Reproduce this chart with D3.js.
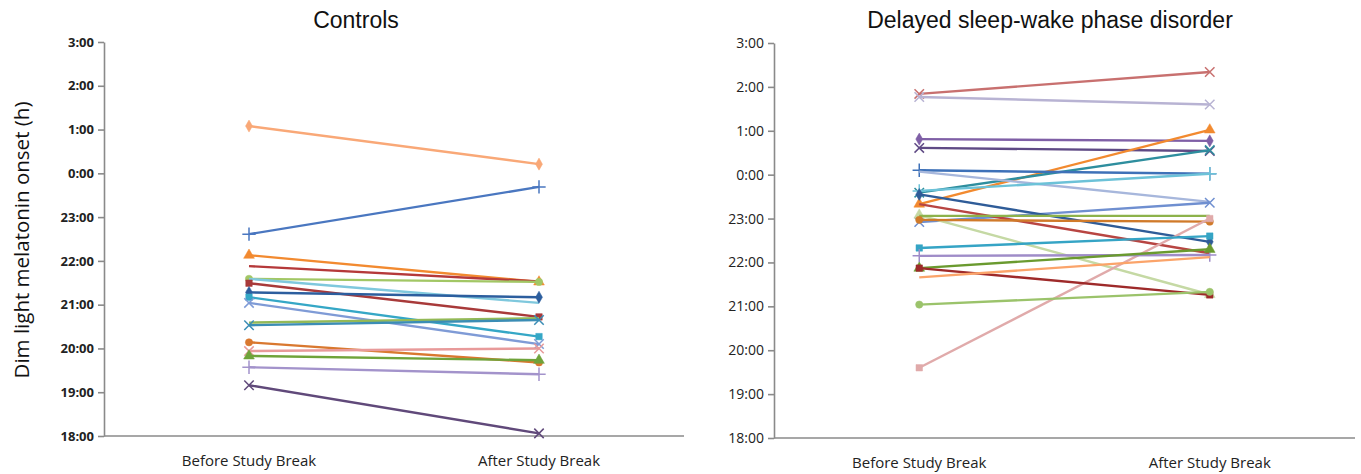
<!DOCTYPE html>
<html>
<head>
<meta charset="utf-8">
<script src="https://cdn.jsdelivr.net/npm/d3@7"></script>
<style>
  body { margin: 0; background: #fff; }
  .title { font-family: "Liberation Sans", Arial, sans-serif; font-size: 23px; fill: #111; }
  .ylab { font-family: "Open Sans", sans-serif; font-size: 20.5px; fill: #111; }
  .tick text { font-family: "Open Sans", sans-serif; font-size: 14px; fill: #222; }
  .bold .tick text { font-weight: bold; font-size: 13px; }
  .domain, .tick line { stroke: #8a8a8a; stroke-width: 1.6px; }
</style>
</head>
<body>
<div id="chart"></div>
<script>
// --- DATA ---
// times in decimal hours; values above 24 are after midnight
const categories = ["Before Study Break", "After Study Break"];
const tickHours = [18, 19, 20, 21, 22, 23, 24, 25, 26, 27];
const tickLabels = ["18:00", "19:00", "20:00", "21:00", "22:00", "23:00", "0:00", "1:00", "2:00", "3:00"];

const controlsBefore = [25.08, 22.61, 22.13, 21.88, 21.59, 21.59, 21.49, 21.28, 21.17, 21.04, 20.59, 20.53, 20.14, 19.94, 19.83, 19.57, 19.16];
const controlsAfter  = [24.21, 23.69, 21.52, 21.53, 21.52, 21.04, 20.72, 21.17, 20.27, 20.10, 20.69, 20.65, 19.68, 20.00, 19.73, 19.41, 18.06];
const controlsColors = ["#f9a877", "#4a77c0", "#f28a30", "#b5393a", "#a2c765", "#7fc8dd", "#a83a3a", "#2c5e9e",
  "#35a7c6", "#7f9bd6", "#93b957", "#3b8db5", "#d9782f", "#e89a9a", "#6fa33a", "#a393cb", "#60497a"];
const controlsSymbols = ["diamond", "plus", "triangle", "none", "circle", "none", "square", "diamond",
  "square", "x", "none", "x", "circle", "x", "triangle", "plus", "x"];

const dswpdBefore = [25.84, 25.77, 24.81, 24.61, 23.33, 23.59, 24.10, 24.07, 22.92, 23.63, 23.55, 23.33, 23.08, 23.06, 22.97, 19.60, 22.33, 22.15, 21.87, 21.87, 21.66, 21.04];
const dswpdAfter  = [26.34, 25.60, 24.77, 24.54, 25.02, 24.56, 24.02, 23.38, 23.36, 24.02, 22.47, 22.21, 21.27, 23.06, 22.93, 23.00, 22.60, 22.17, 22.30, 21.26, 22.12, 21.33];
const dswpdColors = ["#c8706f", "#b8b3d3", "#7f5fa6", "#5f4a85", "#f28a2f", "#2e8e9e", "#3e71b8", "#a7b7dc",
  "#6f8fd0", "#6cc2d8", "#2f5c98", "#b84542", "#c5d9a4", "#8db24b", "#d07a2a", "#e0aaaa",
  "#35a4c5", "#9f8cc8", "#6a9a2f", "#9e2a2a", "#fba46a", "#9bc36b"];
const dswpdSymbols = ["x", "x", "diamond", "x", "triangle", "x", "plus", "none",
  "x", "plus", "diamond", "none", "triangle", "none", "circle", "square",
  "square", "plus", "triangle", "square", "none", "circle"];

// --- LAYOUT ---
const W = 1361, H = 474;
const svg = d3.select("#chart").append("svg").attr("width", W).attr("height", H);

const symbolTypes = {
  diamond: d3.symbolDiamond, square: d3.symbolSquare, triangle: d3.symbolTriangle,
  circle: d3.symbolCircle, plus: d3.symbolPlus || d3.symbolCross, x: d3.symbolTimes || d3.symbolX
};

function drawPanel(opts) {
  const x = d3.scalePoint().domain(categories).range([opts.left, opts.right]).padding(0.5);
  const y = d3.scaleLinear().domain([18, 27]).range([opts.bottom, opts.top]);

  const g = svg.append("g");

  svg.append("text").attr("class", "title")
    .attr("x", opts.titleX).attr("y", 28).attr("text-anchor", "middle")
    .text(opts.title);

  g.append("g").attr("class", opts.bold ? "bold" : "")
    .attr("transform", `translate(${opts.left},0)`)
    .call(d3.axisLeft(y).tickValues(tickHours)
      .tickFormat((d, i) => tickLabels[i]).tickSize(6).tickSizeOuter(0).tickPadding(4));

  g.append("line")
    .attr("x1", opts.left).attr("x2", opts.right)
    .attr("y1", opts.bottom).attr("y2", opts.bottom)
    .attr("stroke", "#8a8a8a").attr("stroke-width", 1.6);

  categories.forEach(c => {
    g.append("text")
      .attr("x", x(c)).attr("y", opts.bottom + 30)
      .attr("text-anchor", "middle")
      .style("font-family", "'Open Sans', sans-serif").style("font-size", "15px").style("fill", "#222")
      .text(c);
  });

  opts.before.forEach((b, i) => {
    const a = opts.after[i];
    const col = opts.colors[i];
    g.append("line")
      .attr("x1", x(categories[0])).attr("y1", y(b))
      .attr("x2", x(categories[1])).attr("y2", y(a))
      .attr("stroke", col).attr("stroke-width", 2.4);
    const sym = opts.symbols[i];
    if (sym === "none") return;
    [[categories[0], b], [categories[1], a]].forEach(([c, v]) => {
      const filled = sym !== "plus" && sym !== "x";
      g.append("path")
        .attr("d", d3.symbol().type(symbolTypes[sym]).size(sym === "triangle" ? 50 : filled ? 42 : 60)())
        .attr("transform", `translate(${x(c)},${y(v)})`)
        .attr("fill", filled ? col : "none")
        .attr("stroke", col).attr("stroke-width", filled ? 0.5 : 1.5);
    });
  });
}

drawPanel({
  title: "Controls", titleX: 356, left: 104, right: 684, top: 42, bottom: 436, bold: true,
  before: controlsBefore, after: controlsAfter, colors: controlsColors, symbols: controlsSymbols
});

drawPanel({
  title: "Delayed sleep-wake phase disorder", titleX: 1050, left: 774, right: 1355, top: 43, bottom: 438, bold: false,
  before: dswpdBefore, after: dswpdAfter, colors: dswpdColors, symbols: dswpdSymbols
});

svg.append("text").attr("class", "ylab")
  .attr("transform", "translate(29,240) rotate(-90)")
  .attr("text-anchor", "middle")
  .text("Dim light melatonin onset (h)");
</script>
</body>
</html>
